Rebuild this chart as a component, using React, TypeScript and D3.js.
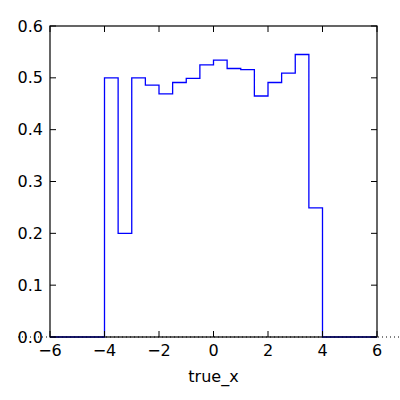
import React, { useEffect, useRef } from 'react';
import * as d3 from 'd3';

// bin edges (width 0.5) and step heights
const binEdges = [-4, -3.5, -3, -2.5, -2, -1.5, -1, -0.5, 0, 0.5, 1, 1.5, 2, 2.5, 3, 3.5, 4];
const binValues = [0.5, 0.2, 0.5, 0.486, 0.469, 0.491, 0.499, 0.525, 0.534, 0.518, 0.516, 0.465, 0.491, 0.509, 0.545, 0.249];
const xTicks = [-6, -4, -2, 0, 2, 4, 6];
const yTicks = [0, 0.1, 0.2, 0.3, 0.4, 0.5, 0.6];

const App = () => {
    const svgRef = useRef<SVGSVGElement>(null);
    const width = 400;
    const height = 400;
    const margin = { left: 50, right: 23, top: 26, bottom: 63 };

    useEffect(() => {
        const svg = d3.select(svgRef.current);
        svg.selectAll("*").remove();

        const x = d3.scaleLinear().domain([-6, 6]).range([margin.left, width - margin.right]);
        const y = d3.scaleLinear().domain([0, 0.6]).range([height - margin.bottom, margin.top]);
        const font = "'DejaVu Sans', sans-serif";

        // dotted baseline reaching past the frame
        svg.append("line")
            .attr("x1", 18).attr("x2", width)
            .attr("y1", y(0)).attr("y2", y(0))
            .attr("stroke", "#000").attr("stroke-width", 1)
            .attr("stroke-dasharray", "1,3");

        // step outline: zero from -6, bins, zero to 6
        const pts: [number, number][] = [[-6, 0], [binEdges[0], 0]];
        binValues.forEach((v, i) => {
            pts.push([binEdges[i], v]);
            pts.push([binEdges[i + 1], v]);
        });
        pts.push([binEdges[binEdges.length - 1], 0]);
        pts.push([6, 0]);

        const line = d3.line<[number, number]>().x(d => x(d[0])).y(d => y(d[1]));
        svg.append("path")
            .attr("d", line(pts))
            .attr("fill", "none")
            .attr("stroke", "#0000ff")
            .attr("stroke-width", 1.3);

        // frame
        svg.append("rect")
            .attr("x", x(-6)).attr("y", y(0.6))
            .attr("width", x(6) - x(-6)).attr("height", y(0) - y(0.6))
            .attr("fill", "none").attr("stroke", "#000").attr("stroke-width", 1.2);

        const tl = 6;
        const g = svg.append("g");
        xTicks.forEach(t => {
            g.append("line").attr("x1", x(t)).attr("x2", x(t)).attr("y1", y(0)).attr("y2", y(0) - tl).attr("stroke", "#000");
            g.append("line").attr("x1", x(t)).attr("x2", x(t)).attr("y1", y(0.6)).attr("y2", y(0.6) + tl).attr("stroke", "#000");
            g.append("text")
                .attr("x", x(t)).attr("y", y(0) + 19)
                .attr("text-anchor", "middle")
                .attr("font-family", font).attr("font-size", 16)
                .text(d3.format("")(t).replace("-", "\u2212"));
        });
        yTicks.forEach(t => {
            g.append("line").attr("x1", x(-6)).attr("x2", x(-6) + tl).attr("y1", y(t)).attr("y2", y(t)).attr("stroke", "#000");
            g.append("line").attr("x1", x(6)).attr("x2", x(6) - tl).attr("y1", y(t)).attr("y2", y(t)).attr("stroke", "#000");
            g.append("text")
                .attr("x", x(-6) - 7).attr("y", y(t))
                .attr("dy", "0.35em")
                .attr("text-anchor", "end")
                .attr("font-family", font).attr("font-size", 16)
                .text(d3.format(".1f")(t));
        });

        svg.append("text")
            .attr("x", x(0)).attr("y", 382)
            .attr("text-anchor", "middle")
            .attr("font-family", font).attr("font-size", 16)
            .text("true_x");
    }, []);

    return (
        <svg ref={svgRef} width={width} height={height}
            style={{ position: 'absolute', left: 0, top: 0, background: '#fff' }}></svg>
    );
};

export default App;
